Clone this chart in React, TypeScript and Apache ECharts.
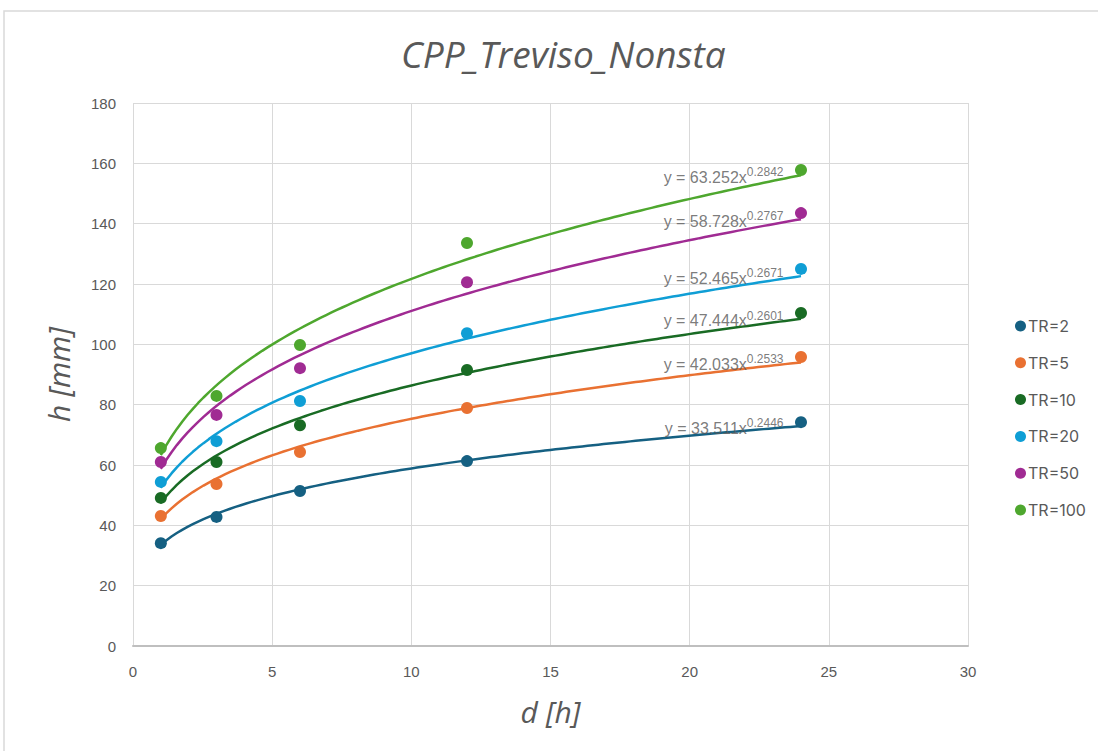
import React, { useEffect, useRef } from "react";
import * as echarts from "echarts";

// Durations [h]
const durations = [1, 3, 6, 12, 24];

// Return periods and observed rainfall depths h [mm]
const seriesNames = ["TR=2", "TR=5", "TR=10", "TR=20", "TR=50", "TR=100"];
const hTR2 = [34.1, 42.8, 51.4, 61.3, 74.2];
const hTR5 = [43.1, 53.7, 64.3, 78.9, 95.8];
const hTR10 = [49.1, 61.0, 73.2, 91.5, 110.4];
const hTR20 = [54.4, 67.9, 81.2, 103.7, 125.0];
const hTR50 = [61.0, 76.6, 92.1, 120.6, 143.5];
const hTR100 = [65.6, 82.9, 99.8, 133.6, 157.8];
const observed = [hTR2, hTR5, hTR10, hTR20, hTR50, hTR100];

// Power-law trend coefficients: h = a * d^n
const coefA = [33.511, 42.033, 47.444, 52.465, 58.728, 63.252];
const coefN = [0.2446, 0.2533, 0.2601, 0.2671, 0.2767, 0.2842];
const coefALabel = ["33.511", "42.033", "47.444", "52.465", "58.728", "63.252"];
const coefNLabel = ["0.2446", "0.2533", "0.2601", "0.2671", "0.2767", "0.2842"];

const colors = ["#156082", "#E97132", "#196B24", "#0F9ED5", "#A02B93", "#4EA72E"];

const xTicks = { min: 0, max: 30, interval: 5 };
const yTicks = { min: 0, max: 180, interval: 20 };

const FONT = "'Liberation Sans', Arial, sans-serif";
const GREY = "#595959";

function trendPoints(a: number, n: number): number[][] {
  const pts: number[][] = [];
  const start = durations[0];
  const end = durations[durations.length - 1];
  const steps = 120;
  for (let i = 0; i <= steps; i++) {
    const d = start + ((end - start) * i) / steps;
    pts.push([d, a * Math.pow(d, n)]);
  }
  return pts;
}

export default function App() {
  const ref = useRef<HTMLDivElement>(null);

  useEffect(() => {
    if (!ref.current) return;
    const chart = echarts.init(ref.current, undefined, { renderer: "svg" });

    const scatterSeries = seriesNames.map((name, i) => ({
      name,
      type: "scatter",
      data: durations.map((d, j) => [d, observed[i][j]]),
      symbol: "circle",
      symbolSize: 12,
      itemStyle: { color: colors[i], opacity: 1 },
      z: 3,
    }));

    const trendSeries = seriesNames.map((name, i) => ({
      name: name + " trend",
      type: "line",
      data: trendPoints(coefA[i], coefN[i]),
      showSymbol: false,
      symbol: "none",
      lineStyle: { color: colors[i], width: 2.5 },
      itemStyle: { color: colors[i] },
      silent: true,
      z: 2,
    }));

    // Equation labels anchored at the end of each trend curve
    const lastD = durations[durations.length - 1];
    const equationSeries = seriesNames.map((name, i) => ({
      name: name + " equation",
      type: "scatter",
      data: [[lastD, coefA[i] * Math.pow(lastD, coefN[i])]],
      symbolSize: 1,
      itemStyle: { color: "rgba(0,0,0,0)" },
      silent: true,
      z: 4,
      label: {
        show: true,
        position: "left",
        distance: 17,
        offset: [0, 2],
        formatter: `{b|y = ${coefALabel[i]}x}{s|${coefNLabel[i]}}`,
        rich: {
          b: { fontSize: 16, color: GREY, fontFamily: FONT, lineHeight: 20 },
          s: { fontSize: 12, color: GREY, fontFamily: FONT, lineHeight: 20, padding: [0, 0, 10, 0] },
        },
      },
    }));

    chart.setOption({
      animation: false,
      backgroundColor: "#ffffff",
      title: {
        text: "CPP_Treviso_Nonsta",
        left: 396,
        top: 30,
        textStyle: {
          fontFamily: "'Open Sans', sans-serif",
          fontStyle: "italic",
          fontWeight: "normal",
          fontSize: 37,
          color: GREY,
        },
      },
      legend: {
        data: seriesNames,
        orient: "vertical",
        left: 1010,
        top: 313,
        itemWidth: 11,
        itemHeight: 11,
        itemGap: 20.8,
        icon: "circle",
        textStyle: { fontSize: 16, color: GREY, fontFamily: "Inter, sans-serif", padding: [0, 0, 0, -3] },
      },
      grid: { left: 133, right: 130, top: 103, bottom: 105 },
      xAxis: {
        type: "value",
        min: xTicks.min,
        max: xTicks.max,
        interval: xTicks.interval,
        name: "d [h]",
        nameLocation: "middle",
        nameGap: 50,
        nameTextStyle: { fontSize: 30, fontStyle: "italic", color: GREY, fontFamily: "'Open Sans', sans-serif" },
        axisLine: { show: true, lineStyle: { color: "#bfbfbf", width: 2 } },
        axisTick: { show: false },
        axisLabel: { fontSize: 15, color: GREY, margin: 18, fontFamily: FONT },
        splitLine: { show: true, lineStyle: { color: "#d9d9d9", width: 1 } },
      },
      yAxis: {
        type: "value",
        min: yTicks.min,
        max: yTicks.max,
        interval: yTicks.interval,
        name: "h [mm]",
        nameLocation: "middle",
        nameGap: 60,
        nameTextStyle: { fontSize: 30, fontStyle: "italic", color: GREY, fontFamily: "'Open Sans', sans-serif" },
        axisLine: { show: false },
        axisTick: { show: false },
        axisLabel: { fontSize: 15, color: GREY, margin: 17, fontFamily: FONT },
        splitLine: { show: true, lineStyle: { color: "#d9d9d9", width: 1 } },
      },
      graphic: [
        {
          type: "rect",
          shape: { x: 4, y: 11, width: 1200, height: 800 },
          style: { fill: "none", stroke: "#d9d9d9", lineWidth: 1.5 },
          silent: true,
          z: -10,
        },
      ],
      series: [...trendSeries, ...scatterSeries, ...equationSeries],
    });

    return () => chart.dispose();
  }, []);

  return (
    <div
      ref={ref}
      style={{ position: "fixed", left: 0, top: 0, width: 1098, height: 751, background: "#fff" }}
    />
  );
}
